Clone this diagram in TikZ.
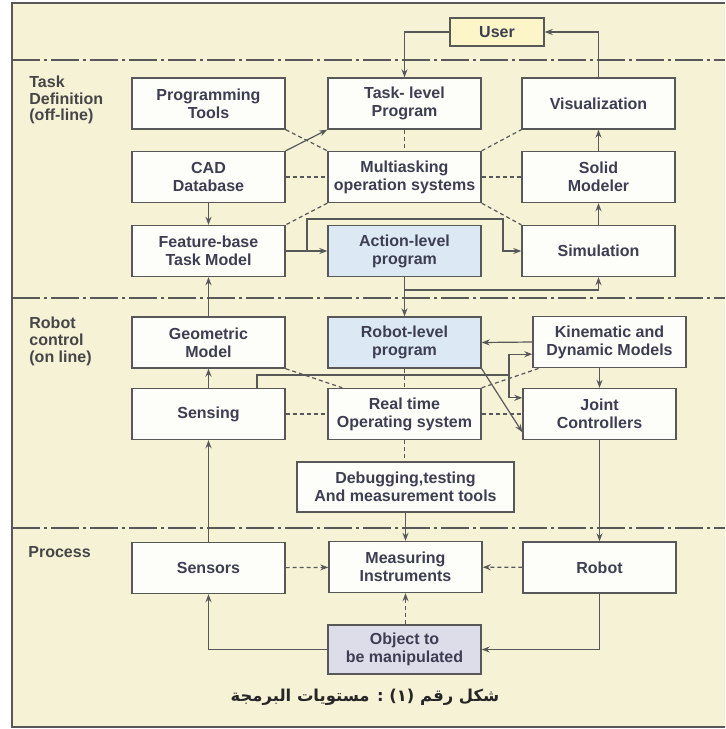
\documentclass[tikz,border=0pt]{standalone}
\usepackage{fontspec}
\setmainfont{Liberation Sans}
\newfontfamily\arabicfont[Script=Arabic]{DejaVu Sans}
\TeXXeTstate=1
\usetikzlibrary{arrows.meta,calc}
\definecolor{paper}{RGB}{245,242,214}
\definecolor{linegray}{RGB}{88,88,88}
\definecolor{boxtext}{RGB}{62,62,82}
\definecolor{labeltext}{RGB}{70,70,70}
\definecolor{boxwhite}{RGB}{253,253,250}
\definecolor{progblue}{RGB}{220,233,245}
\definecolor{objlilac}{RGB}{221,221,234}
\definecolor{useryellow}{RGB}{251,245,200}
\begin{document}
\begin{tikzpicture}[x=0.5pt, y=-0.5pt,
    >={Stealth[length=4pt,width=3pt]},
    box/.style={draw=linegray, line width=0.7pt, fill=boxwhite, text=boxtext,
      align=center, minimum width=76.5pt, minimum height=25.5pt, inner sep=1pt,
      font=\bfseries\fontsize{8}{9}\selectfont},
    wire/.style={draw=linegray, line width=0.6pt},
    dots/.style={wire, dash pattern=on 2pt off 1.5pt},
    level/.style={draw=linegray, line width=0.6pt,
      dash pattern=on 14pt off 2pt on 1.5pt off 2pt},
    tag/.style={anchor=north west, align=left, text=labeltext, inner sep=0pt,
      font=\bfseries\fontsize{8}{8.5}\selectfont}]
    \useasboundingbox (0,0) rectangle (725,729);
    \fill[white] (0,0) rectangle (725,729);
    \fill[paper] (12,3) rectangle (725,727);
    \draw[linegray, line width=1.2pt] (725,3) -- (12,3) -- (12,727) -- (725,727);

    % levels
    \draw[level] (12,60) -- (725,60);
    \draw[level] (12,298) -- (725,298);
    \draw[level] (12,528) -- (725,528);
    \draw (29,75) node[tag] (tasklbl) {Task\\Definition\\(off-line)};
    \draw (29,316) node[tag] (robotlbl) {Robot\\control\\(on line)};
    \draw (28,546) node[tag] (proclbl) {Process};

    % task definition
    \draw (497,32) node[box, fill=useryellow, minimum width=47pt, minimum height=14pt] (user) {User};
    \draw (208.5,103.5) node[box] (prog) {Programming\\Tools};
    \draw (404.5,103.5) node[box] (tlp) {Task- level\\Program};
    \draw (598.5,103.5) node[box] (vis) {Visualization};
    \draw (208.5,177) node[box] (cad) {CAD\\Database};
    \draw (404.5,177) node[box] (mos) {Multiasking\\operation systems};
    \draw (598.5,177) node[box] (solid) {Solid\\Modeler};
    \draw (208.5,251) node[box] (feat) {Feature-base\\Task Model};
    \draw (404.5,251) node[box, fill=progblue] (alp) {Action-level\\program};
    \draw (598.5,251) node[box] (sim) {Simulation};

    % robot control
    \draw (208.5,342.5) node[box] (geo) {Geometric\\Model};
    \draw (404.5,342.5) node[box, fill=progblue] (rlp) {Robot-level\\program};
    \draw (609.5,342) node[box] (kin) {Kinematic and\\Dynamic Models};
    \draw (208.5,414) node[box] (sensing) {Sensing};
    \draw (404.5,414) node[box] (rtos) {Real time\\Operating system};
    \draw (599.5,414) node[box] (joint) {Joint\\Controllers};
    \draw (405.5,487) node[box, minimum width=108.5pt, minimum height=25pt] (debug) {Debugging,testing\\And measurement tools};

    % process
    \draw (208.5,568) node[box] (sensors) {Sensors};
    \draw (405.5,567) node[box] (meas) {Measuring\\Instruments};
    \draw (599.5,567.5) node[box] (robot) {Robot};
    \draw (404.5,649.5) node[box, fill=objlilac, minimum height=24.5pt] (obj) {Object to\\be manipulated};

    \draw (365,697) node[text=black!85, font=\arabicfont\bfseries\fontsize{8.2}{10}\selectfont] (caption)
          {\beginR شكل رقم (١) : مستويات البرمجة\endR};

    % connectors
    \coordinate (fb) at (307,251);
    \coordinate (fbup) at (503,219);
    \coordinate (ab) at (404.5,290);
    \coordinate (sb) at (257,375);
    \coordinate (sx) at (509,375);
    \coordinate (kinin) at ($(kin.south west)+(0,-14)$);
    \coordinate (jointin) at ($(joint.north west)+(0,10)$);
    \coordinate (jointlow) at ($(joint.south west)+(0,-8)$);

    \draw[wire, ->] (user.west) -| (tlp.north);
    \draw[wire, ->] (vis.north) |- (user.east);
    \draw[wire, ->] (solid) -- (vis);
    \draw[wire, ->] (sim) -- (solid);
    \draw[dots] (tlp) -- (mos);
    \draw[wire, ->] (cad.north east) -- (tlp.south west);
    \draw[dots] (prog.south east) -- (mos.north west);
    \draw[dots] (cad) -- (mos);
    \draw[dots] (mos) -- (solid);
    \draw[dots] (mos.south west) -- (feat.north east);
    \draw[dots] (mos.north east) -- (vis.south west);
    \draw[dots] (mos.south east) -- (sim.north west);
    \draw[wire, ->] (cad) -- (feat);
    \draw[wire, ->] (feat) -- (alp);
    \draw[wire, ->] (fb) |- (fbup) |- (sim.west);
    \draw[wire, ->] (alp) -- (rlp);
    \draw[wire, ->] (ab) -| (sim.south);

    \draw[wire, ->] (geo) -- (feat);
    \draw[wire, ->] (sensing) -- (geo);
    \draw[wire] (sensing.north -| sb) -- (sb) -- (sx);
    \draw[wire, ->] (sx) |- (kinin);
    \draw[wire, ->] (sx) |- (jointin);
    \draw[wire, ->] (kin.west) -- (rlp.east);
    \draw[wire, ->] (joint.north |- kin.south) -- (joint.north);
    \draw[wire, ->] (rlp.south east) -- (jointlow);
    \draw[dots] (geo.south east) -- ($(rtos.north west)+(15,0)$);
    \draw[dots] (rtos.north east) -- ($(kin.south west)+(7,0)$);
    \draw[dots] (sensing) -- (rtos);
    \draw[dots] (rtos) -- (joint);
    \draw[dots] (rlp) -- (rtos);
    \draw[dots] (rtos.south) -- (rtos.south |- debug.north);

    \draw[wire, ->] (sensors) -- (sensing);
    \draw[wire, ->] (debug) -- (meas);
    \draw[wire, ->] (joint) -- (robot);
    \draw[dots, ->] (sensors) -- (meas);
    \draw[dots, ->] (robot) -- (meas);
    \draw[dots, ->] (obj.north -| meas) -- (meas.south);
    \draw[wire, ->] (obj.west) -| (sensors.south);
    \draw[wire, ->] (robot.south) |- (obj.east);
\end{tikzpicture}
\end{document}
